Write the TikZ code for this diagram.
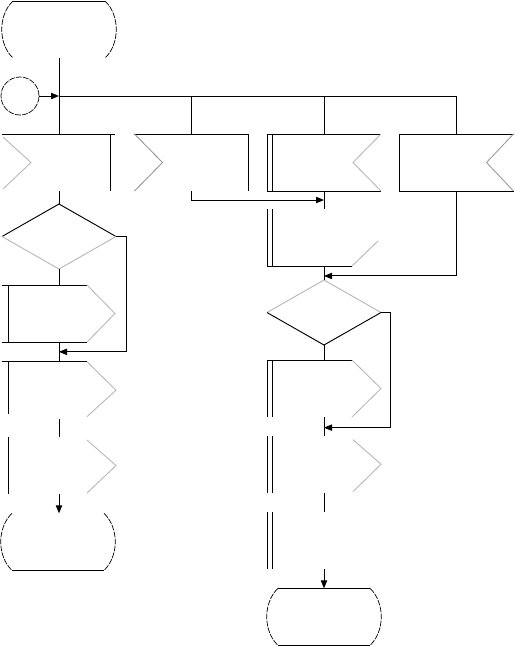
\documentclass[tikz,border=0pt]{standalone}
\usepackage{tikz}
\usetikzlibrary{arrows.meta,positioning,shapes.geometric,calc}

\begin{document}
\begin{tikzpicture}[
  x=0.03cm, y=-0.03cm,
  block/.style={minimum width=3.42cm, minimum height=1.71cm, inner sep=0pt, outer sep=0pt},
  decision/.style={diamond, minimum width=3.42cm, minimum height=1.95cm, inner sep=0pt, outer sep=0pt},
  line/.style={line width=0.8pt},
  faint/.style={line width=0.8pt, gray!55},
  rim/.style={line width=0.6pt, dash pattern=on 5pt off 1pt},
  arrow/.style={-{Triangle[length=2.4mm,width=1.9mm]}, line width=0.8pt}
]
\useasboundingbox (0,0) rectangle (515,647);

% left column
\node[block] (T1) at (59,29.5) {};
\node[circle, rim, draw, minimum size=1.14cm, inner sep=0pt] (C) at (20,96) {};
\node[block] (B1) at (59,162.5) {};
\node[decision, below=0.39cm of B1] (D1) {};
\node[block, below=0.48cm of D1] (L2) {};
\node[block, below=0.59cm of L2] (L3) {};
\node[block, below=0.55cm of L3] (L4) {};
\node[block, below=0.58cm of L4] (T2) {};

% upper row
\node[block] (B2) at (191.5,162.5) {};
\node[block] (B3) at (324,162.5) {};
\node[block] (B4) at (456.5,162.5) {};

% right column
\node[block, below=0.54cm of B3] (B5) {};
\node[decision, below=0.42cm of B5] (D2) {};
\node[block, below=0.45cm of D2] (R6) {};
\node[block, below=0.56cm of R6] (R7) {};
\node[block, below=0.59cm of R7] (R8) {};
\node[block, below=0.57cm of R8] (T3) {};

% terminators
\draw[line] ($(T1.north west)+(11,0)$) -- ($(T1.north east)+(-11,0)$);
\draw[rim] ($(T1.north west)+(11,0)$) .. controls +(-15,14) and +(-15,-14) .. ($(T1.south west)+(11,0)$);
\draw[rim] ($(T1.north east)+(-11,0)$) .. controls +(15,14) and +(15,-14) .. ($(T1.south east)+(-11,0)$);
\draw[line] ($(T2.south west)+(10,0)$) -- ($(T2.south east)+(-12,0)$);
\draw[rim] ($(T2.north west)+(10,0)$) .. controls +(-15,14) and +(-15,-14) .. ($(T2.south west)+(10,0)$);
\draw[rim] ($(T2.north east)+(-12,0)$) .. controls +(15,14) and +(15,-14) .. ($(T2.south east)+(-12,0)$);
\draw[line] ($(T3.north west)+(11,0)$) -- ($(T3.north east)+(-11,0)$);
\draw[line] ($(T3.south west)+(11,0)$) -- ($(T3.south east)+(-11,0)$);
\draw[rim] ($(T3.north west)+(11,0)$) .. controls +(-15,14) and +(-15,-14) .. ($(T3.south west)+(11,0)$);
\draw[rim] ($(T3.north east)+(-11,0)$) .. controls +(15,14) and +(15,-14) .. ($(T3.south east)+(-11,0)$);

% boxes of the upper row
\draw[line] (B1.north west) -- ($(B1.north east)+(-1,0)$);
\draw[line] ($(B1.north east)+(-6,0)$) -- ($(B1.south east)+(-6,0)$);
\draw[faint] ($(B1.north west)+(1,3)$) -- ($(B1.west)+(29,0)$) -- ($(B1.south west)+(1,-2)$);
\draw[line] (B2.north west) -- (B2.north east) -- (B2.south east);
\draw[line, gray!80] (B2.north west) -- ($(B2.west)+(28,0)$) -- (B2.south west);
\draw[line] (B3.north east) -- (B3.north west) -- (B3.south west) -- (B3.south east);
\draw[line] ($(B3.north west)+(5,0)$) -- ($(B3.south west)+(5,0)$);
\draw[faint] (B3.north east) -- ($(B3.east)+(-28,0)$) -- (B3.south east);
\draw[line] (B4.north east) -- (B4.north west) -- (B4.south west) -- (B4.south east);
\draw[line, gray!75] (B4.north east) -- ($(B4.east)+(-27,0)$) -- (B4.south east);

% left column shapes
\draw[line] (D1.west) -- (D1.north) -- (D1.east);
\draw[faint] (D1.west) -- (D1.south) -- (D1.east);
\draw[line] ($(L2.north east)+(-29,0)$) -- (L2.north west);
\draw[line] ($(L2.south east)+(-29,0)$) -- (L2.south west);
\draw[line] ($(L2.north west)+(6,0)$) -- ($(L2.south west)+(6,0)$);
\draw[faint] ($(L2.north east)+(-29,0)$) -- ($(L2.east)+(-1,0)$) -- ($(L2.south east)+(-29,0)$);
\draw[line] ($(L3.north east)+(-29,0)$) -- (L3.north west);
\draw[line] ($(L3.north west)+(6,0)$) -- ($(L3.south west)+(6,-5)$);
\draw[faint] ($(L3.north east)+(-29,0)$) -- (L3.east) -- ($(L3.south east)+(-29,-2)$);
\draw[line] ($(L4.north west)+(6,0)$) -- ($(L4.south west)+(6,0)$);
\draw[faint] ($(L4.north east)+(-29,3)$) -- (L4.east) -- ($(L4.south east)+(-29,-1)$);

% right column shapes
\draw[line] (B5.north west) -- (B5.south west) -- ($(B5.south east)+(-29,0)$);
\draw[line] ($(B5.north west)+(5,0)$) -- ($(B5.south west)+(5,0)$);
\draw[faint] ($(B5.south east)+(-29,0)$) -- ($(B5.east)+(-3,3.5)$);
\draw[faint] (D2.west) -- (D2.north) -- (D2.east);
\draw[line] (D2.west) -- (D2.south) -- (D2.east);
\draw[line] ($(R6.north east)+(-29,0)$) -- (R6.north west) -- (R6.south west);
\draw[line] ($(R6.north west)+(5,0)$) -- ($(R6.south west)+(5,0)$);
\draw[faint] ($(R6.north east)+(-29,0)$) -- (R6.east) -- ($(R6.south east)+(-29,0)$);
\draw[line] (R7.north west) -- (R7.south west);
\draw[line] ($(R7.north west)+(5,0)$) -- ($(R7.south west)+(5,0)$);
\draw[faint] ($(R7.north east)+(-28,4)$) -- (R7.east) -- ($(R7.south east)+(-28,-1)$);
\draw[line] (R8.north west) -- (R8.south west);
\draw[line] ($(R8.north west)+(5,0)$) -- ($(R8.south west)+(5,0)$);

% connectors
\coordinate (J) at (B1.north |- C.east);
\draw[arrow] (C.east) -- (J);
\draw[line] (T1.south) -- (B1.north);
\draw[line] (J) -- (J -| B4.north);
\draw[line] (B2.north |- J) -- (B2.north);
\draw[line] (B3.north |- J) -- (B3.north);
\draw[line] (B4.north |- J) -- (B4.north);
\draw[line] (B1.south) -- (D1.north);
\draw[line] (D1.south) -- (L2.north);
\draw[arrow] (D1.east) -- ++(10,0) |- ($(L2.south)!0.5!(L3.north)$);
\draw[line] (L2.south) -- (L3.north);
\draw[line] (L3.south) -- (L4.north);
\draw[arrow] (L4.south) -- (T2.north);
\draw[arrow] (B2.south) |- ($(B3.south)!0.5!(B5.north)$);
\draw[line] (B3.south) -- (B5.north);
\draw[arrow] (B4.south) |- ($(B5.south)!0.71!(D2.north)$);
\draw[line] (B5.south) -- (D2.north);
\draw[line] (D2.south) -- (R6.north);
\draw[arrow] (D2.east) -- ++(9,0) |- ($(R6.south)!0.57!(R7.north)$);
\draw[line] (R6.south) -- (R7.north);
\draw[line] (R7.south) -- (R8.north);
\draw[arrow] (R8.south) -- (T3.north);
\end{tikzpicture}
\end{document}
